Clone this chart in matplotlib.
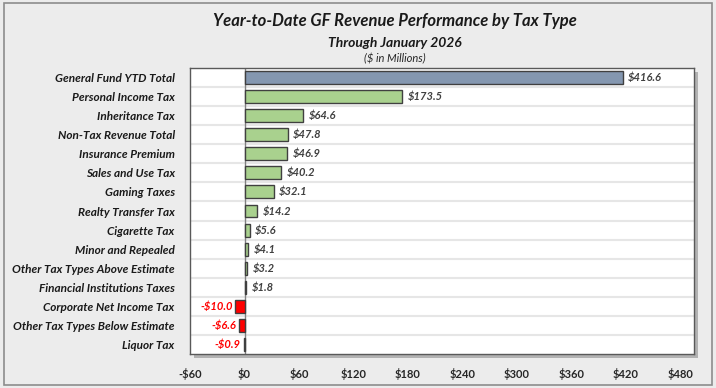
import matplotlib.pyplot as plt
from matplotlib.patches import Rectangle

plt.rcParams['font.family'] = ['Lato', 'DejaVu Sans']

categories = ['General Fund YTD Total', 'Personal Income Tax', 'Inheritance Tax',
              'Non-Tax Revenue Total', 'Insurance Premium', 'Sales and Use Tax',
              'Gaming Taxes', 'Realty Transfer Tax', 'Cigarette Tax',
              'Minor and Repealed', 'Other Tax Types Above Estimate',
              'Financial Institutions Taxes', 'Corporate Net Income Tax',
              'Other Tax Types Below Estimate', 'Liquor Tax']
values = [416.6, 173.5, 64.6, 47.8, 46.9, 40.2, 32.1, 14.2, 5.6, 4.1, 3.2, 1.8,
          -10.0, -6.6, -0.9]
xticks = [-60, 0, 60, 120, 180, 240, 300, 360, 420, 480]
xtick_labels = ['-$60', '$0', '$60', '$120', '$180', '$240', '$300', '$360', '$420', '$480']

fig = plt.figure(figsize=(7.16, 3.88), dpi=100)
fig.patch.set_facecolor('#ECECEC')

# outer frame
fig.patches.append(Rectangle((0.005, 0.008), 0.99, 0.984, transform=fig.transFigure,
                             fill=False, edgecolor='#8C8C8C', lw=1.2))

ax_pos = [0.2654, 0.0876, 0.7039, 0.7371]
# drop shadow of plot area
fig.patches.append(Rectangle((ax_pos[0] + 0.006, ax_pos[1] - 0.011), ax_pos[2], ax_pos[3],
                             transform=fig.transFigure, facecolor='#9A9A9A',
                             edgecolor='none', alpha=0.7, zorder=-1))
ax = fig.add_axes(ax_pos)
ax.set_zorder(2)
ax.set_facecolor('white')

y = list(range(len(categories)))
colors = []
for i, v in enumerate(values):
    if i == 0:
        colors.append('#8497B0')
    elif v < 0:
        colors.append('#FF0000')
    else:
        colors.append('#A9D18E')

ax.barh(y, values, height=0.68, color=colors, edgecolor='#404040', lw=1.0, zorder=3)

for i, v in enumerate(values):
    if v >= 0:
        ax.text(v + 6, i, f'${v:.1f}', va='center', ha='left', fontsize=8,
                fontweight='bold', fontstyle='italic', color='#404040', zorder=4)
    else:
        ax.text(v - 3, i, f'-${abs(v):.1f}', va='center', ha='right', fontsize=8,
                fontweight='bold', fontstyle='italic', color='#FF0000', zorder=4)

# row separators
for i in range(len(categories) - 1):
    ax.axhline(i + 0.5, color='#E6E6E6', lw=1.5, zorder=1)
ax.axvline(0, color='#808080', lw=1.0, zorder=2)

ax.set_ylim(len(categories) - 0.5, -0.5)
ax.set_xlim(-60, 495)
ax.set_yticks(y)
ax.set_yticklabels(categories, fontsize=8.5, fontweight='bold', fontstyle='italic',
                   color='#1A1A1A')
ax.set_xticks(xticks)
ax.set_xticklabels(xtick_labels, fontsize=8, fontweight='bold', color='#262626')
ax.tick_params(length=0, pad=10)
ax.tick_params(axis='y', pad=11)
for s in ax.spines.values():
    s.set_color('#595959')
    s.set_linewidth(1.0)

fig.text(0.552, 0.945, 'Year-to-Date GF Revenue Performance by Tax Type', ha='center',
         va='center', fontsize=12, fontweight='bold', fontstyle='italic', color='#1A1A1A')
fig.text(0.552, 0.890, 'Through January 2026', ha='center', va='center', fontsize=10,
         fontweight='bold', fontstyle='italic', color='#1A1A1A')
fig.text(0.552, 0.850, '($ in Millions)', ha='center', va='center', fontsize=8,
         fontstyle='italic', color='#262626')

plt.savefig('out.png', dpi=100, facecolor=fig.get_facecolor())
